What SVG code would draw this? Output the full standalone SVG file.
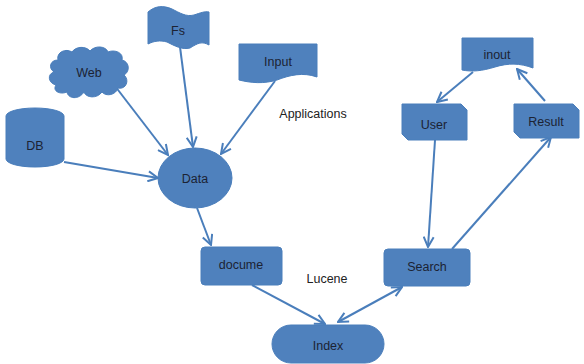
<svg xmlns="http://www.w3.org/2000/svg" width="584" height="364" viewBox="0 0 584 364">
<defs>
<style>
.shape{fill:#4f81bd;stroke:#4a7ebb;stroke-width:1}
.lbl{font-family:"Liberation Sans",Arial,sans-serif;font-size:12.5px;fill:#1c2333;text-anchor:middle;dominant-baseline:central}
.plain{font-family:"Liberation Sans",Arial,sans-serif;font-size:12.5px;fill:#222;text-anchor:middle;dominant-baseline:central}
.conn{fill:none;stroke:#4a7ebb;stroke-width:2}
</style>
<marker id="arr" viewBox="0 0 12 12" refX="11" refY="6" markerWidth="12" markerHeight="12" markerUnits="userSpaceOnUse" orient="auto-start-reverse">
<path d="M1,1 L11,6 L1,11" fill="none" stroke="#4a7ebb" stroke-width="2"/>
</marker>
</defs>
<rect width="584" height="364" fill="#ffffff"/>
<g id="connectors">
<line class="conn" x1="115" y1="86" x2="168" y2="155" marker-end="url(#arr)"/>
<line class="conn" x1="180" y1="47" x2="193" y2="147" marker-end="url(#arr)"/>
<line class="conn" x1="64" y1="162" x2="158" y2="178" marker-end="url(#arr)"/>
<line class="conn" x1="275" y1="81" x2="221" y2="154" marker-end="url(#arr)"/>
<line class="conn" x1="197" y1="208" x2="211" y2="245" marker-end="url(#arr)"/>
<line class="conn" x1="252" y1="285" x2="325" y2="324" marker-end="url(#arr)"/>
<line class="conn" x1="338" y1="322" x2="402" y2="287" marker-start="url(#arr)" marker-end="url(#arr)"/>
<line class="conn" x1="435" y1="140" x2="428" y2="247" marker-end="url(#arr)"/>
<line class="conn" x1="452" y1="249" x2="551" y2="137" marker-end="url(#arr)"/>
<line class="conn" x1="545" y1="101" x2="517" y2="69" marker-end="url(#arr)"/>
<line class="conn" x1="473" y1="72" x2="437" y2="102" marker-end="url(#arr)"/>
</g>
<g id="db">
<path class="shape" d="M6,116 A29,8 0 0 1 64,116 V159 A29,8 0 0 1 6,159 Z"/>
<text class="lbl" x="35" y="146">DB</text>
</g>
<g id="web">
<path class="shape" d="M58,60 C56,52 66,48 72,52 C76,46 86,46 90,51 C95,45 106,46 108,52 C115,49 124,53 122,60 C130,62 130,72 124,75 C130,80 126,90 118,88 C116,95 106,97 102,92 C97,99 86,98 84,92 C79,100 68,99 67,92 C60,95 52,91 56,85 C48,83 47,74 54,72 C48,68 50,60 58,60 Z"/>
<text class="lbl" x="89" y="73">Web</text>
</g>
<g id="fs">
<path class="shape" d="M148,12 C155,6 163,5 172,9 C180,13 186,17 194,15 C200,13 205,11 209,12 L209,45 C202,41 198,43 190,48 C182,50 175,46 167,42 C160,40 154,41 148,44 Z"/>
<text class="lbl" x="178" y="31">Fs</text>
</g>
<g id="input">
<path class="shape" d="M239,44 H317 V77 C303,72 290,75 277,80 C264,84 251,83 239,80 Z"/>
<text class="lbl" x="278" y="62">Input</text>
</g>
<text class="plain" x="313" y="114">Applications</text>
<g id="data">
<ellipse class="shape" cx="195" cy="178" rx="37" ry="30"/>
<text class="lbl" x="195" y="179">Data</text>
</g>
<g id="docume">
<rect class="shape" x="201" y="247" width="81" height="38" rx="4"/>
<text class="lbl" x="241" y="265">docume</text>
</g>
<text class="plain" x="327" y="279">Lucene</text>
<g id="index">
<rect class="shape" x="272" y="325" width="112" height="38" rx="19"/>
<text class="lbl" x="328" y="346">Index</text>
</g>
<g id="search">
<rect class="shape" x="384" y="249" width="86" height="37" rx="4"/>
<text class="lbl" x="427" y="267">Search</text>
</g>
<g id="inout">
<path class="shape" d="M462,38 H533 V68 C520,63 508,63 495,67 C482,71 472,72 462,70 Z"/>
<text class="lbl" x="497" y="55">inout</text>
</g>
<g id="user">
<path class="shape" d="M402,104 H461 L467,110 V140 H408 L402,134 Z"/>
<text class="lbl" x="434" y="125">User</text>
</g>
<g id="result">
<path class="shape" d="M514,104 H573 L579,110 V138 H520 L514,132 Z"/>
<text class="lbl" x="546" y="122">Result</text>
</g>
</svg>
